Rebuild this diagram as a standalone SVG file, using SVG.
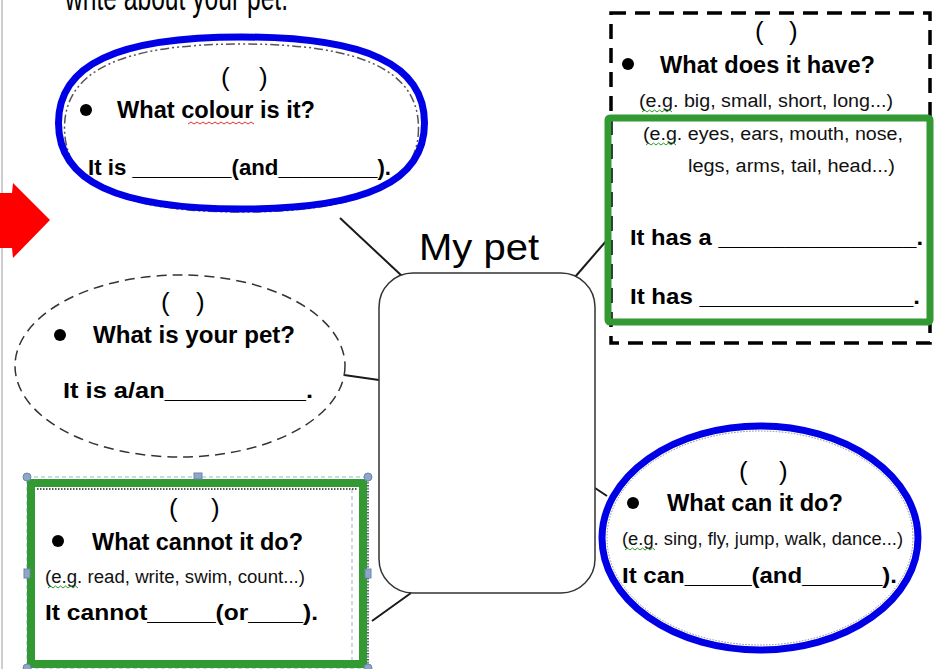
<svg xmlns="http://www.w3.org/2000/svg" width="935" height="669" viewBox="0 0 935 669">
  <style>
    .q { font-family: "Liberation Sans", "DejaVu Sans", sans-serif; font-weight: bold; font-size: 23px; fill: #000; }
    .ans { font-family: "Liberation Sans", "DejaVu Sans", sans-serif; font-weight: bold; font-size: 22px; fill: #000; }
    .eg { font-family: "Liberation Sans", "DejaVu Sans", sans-serif; font-size: 18px; fill: #111; }
    .par { font-family: "Liberation Sans", "DejaVu Sans", sans-serif; font-size: 26px; fill: #000; }
    .title { font-family: "Liberation Sans", "DejaVu Sans", sans-serif; font-size: 36px; fill: #000; }
    .blue { fill: none; stroke: #0000e6; stroke-width: 7; }
    .green { fill: none; stroke: #339933; stroke-width: 7; }
    .conn { stroke: #1a1a1a; stroke-width: 2; fill: none; }
    .squig-red { fill: none; stroke: #e03030; stroke-width: 1; }
    .squig-green { fill: none; stroke: #2c9a2c; stroke-width: 1; }
    .handle { fill: #8ea6c8; stroke: #6d86aa; stroke-width: 1; }
  </style>

  <rect x="0" y="0" width="935" height="669" fill="#fff"/>
  <!-- page margin line -->
  <line x1="2" y1="0" x2="2" y2="669" stroke="#bdbdbd" stroke-width="1.5"/>

  <!-- heading, clipped by the top edge -->
  <text class="title" x="65" y="10" font-size="24" textLength="223" lengthAdjust="spacingAndGlyphs">write about your pet.</text>

  <!-- red pointer arrow -->
  <path d="M0 193 L12 193 L13 183 L50 220 L13 258 L12 248 L0 248 Z" fill="#ff0000"/>

  <!-- connectors from the centre box -->
  <g id="connectors">
    <line class="conn" x1="340" y1="218" x2="402" y2="276"/>
    <line class="conn" x1="575" y1="277" x2="607" y2="240"/>
    <line class="conn" x1="344" y1="375" x2="379" y2="380"/>
    <line class="conn" x1="595" y1="488" x2="607" y2="496"/>
    <line class="conn" x1="411" y1="593" x2="372" y2="621"/>
  </g>

  <!-- centre box -->
  <g id="node-center">
    <text class="title" x="419" y="260" textLength="120" lengthAdjust="spacingAndGlyphs">My pet</text>
    <rect x="379" y="273" width="216" height="320" rx="34" ry="34" fill="#fff" stroke="#333" stroke-width="1.5"/>
  </g>

  <!-- colour bubble (slightly squared oval) -->
  <g id="node-colour">
    <path d="M418.5 128 C418.5 185.1 361.9 212 241.5 212 C121.1 212 64.5 185.1 64.5 128 C64.5 70.9 121.1 44 241.5 44 C361.9 44 418.5 70.9 418.5 128 Z" fill="none" stroke="#555" stroke-width="1.5" stroke-dasharray="9 3 2 3 2 3"/>
    <path class="blue" d="M424.5 123 C424.5 181.5 365.9 209 241.5 209 C117.1 209 58.5 181.5 58.5 123 C58.5 64.5 117.1 37 241.5 37 C365.9 37 424.5 64.5 424.5 123 Z"/>
    <text class="par" x="221" y="86">(</text>
    <text class="par" x="259" y="86">)</text>
    <circle cx="86" cy="110" r="6" fill="#000"/>
    <text class="q" x="117" y="118" textLength="198" lengthAdjust="spacingAndGlyphs">What colour is it?</text>
    <path class="squig-red" d="M188 124 l3 -2 l3 2 l3 -2 l3 2 l3 -2 l3 2 l3 -2 l3 2 l3 -2 l3 2 l3 -2 l3 2 l3 -2 l3 2 l3 -2 l3 2 l3 -2 l3 2 l3 -2 l3 2 l3 -2 l3 2"/>
    <text class="ans" x="88" y="175" textLength="303" lengthAdjust="spacingAndGlyphs">It is ________(and________).</text>
  </g>

  <!-- body parts box -->
  <g id="node-have">
    <rect x="611" y="13" width="319" height="330" fill="none" stroke="#000" stroke-width="3.5" stroke-dasharray="15 9"/>
    <rect class="green" x="608" y="118" width="322" height="204" rx="2"/>
    <text class="par" x="755" y="40">(</text>
    <text class="par" x="789" y="40">)</text>
    <circle cx="628" cy="64" r="6" fill="#000"/>
    <text class="q" x="660" y="73" textLength="215" lengthAdjust="spacingAndGlyphs">What does it have?</text>
    <text class="eg" x="639" y="107" textLength="254" lengthAdjust="spacingAndGlyphs">(e.g. big, small, short, long...)</text>
    <path class="squig-green" d="M642 112 l2.5 -2 l2.5 2 l2.5 -2 l2.5 2 l2.5 -2 l2.5 2 l2.5 -2 l2.5 2 l2.5 -2 l2.5 2 l2.5 -2 l2.5 2"/>
    <text class="eg" x="643" y="140" textLength="260" lengthAdjust="spacingAndGlyphs">(e.g. eyes, ears, mouth, nose,</text>
    <path class="squig-green" d="M646 145 l2.5 -2 l2.5 2 l2.5 -2 l2.5 2 l2.5 -2 l2.5 2 l2.5 -2 l2.5 2 l2.5 -2 l2.5 2 l2.5 -2 l2.5 2"/>
    <text class="eg" x="688" y="172" textLength="207" lengthAdjust="spacingAndGlyphs">legs, arms, tail, head...)</text>
    <text class="ans" x="630" y="245" textLength="293" lengthAdjust="spacingAndGlyphs">It has a _______________.</text>
    <text class="ans" x="630" y="304" textLength="290" lengthAdjust="spacingAndGlyphs">It has ________________.</text>
  </g>

  <!-- pet type bubble -->
  <g id="node-pet">
    <ellipse cx="180" cy="366" rx="165" ry="91" fill="#fff" stroke="#333" stroke-width="1.5" stroke-dasharray="10 6"/>
    <text class="par" x="161" y="311" font-size="22">(</text>
    <text class="par" x="196" y="311" font-size="22">)</text>
    <circle cx="60" cy="335" r="6" fill="#000"/>
    <text class="q" x="93" y="343" textLength="202" lengthAdjust="spacingAndGlyphs">What is your pet?</text>
    <text class="ans" x="63" y="398" textLength="250" lengthAdjust="spacingAndGlyphs">It is a/an__________.</text>
  </g>

  <!-- cannot-do box, shown with its selection frame -->
  <g id="node-cannot">
    <line x1="352" y1="489" x2="352" y2="660" stroke="#9bb0cc" stroke-width="1" stroke-dasharray="4 3"/>
    <line x1="37" y1="489" x2="358" y2="489" stroke="#222" stroke-width="1.5" stroke-dasharray="1.5 1.5"/>
    <line x1="368" y1="482" x2="368" y2="668" stroke="#222" stroke-width="1.5" stroke-dasharray="1.5 1.5"/>
    <rect x="27" y="477" width="341" height="191" fill="none" stroke="#9bb0cc" stroke-width="1" stroke-dasharray="4 3"/>
    <rect x="31" y="483" width="332" height="181" fill="none" stroke="#339933" stroke-width="8"/>
    <circle class="handle" cx="27" cy="477" r="4"/>
    <circle class="handle" cx="368" cy="477" r="4"/>
    <circle class="handle" cx="27" cy="668" r="4"/>
    <circle class="handle" cx="368" cy="668" r="4"/>
    <rect class="handle" x="194" y="473" width="8" height="6"/>
    <rect class="handle" x="24" y="569" width="6" height="9"/>
    <rect class="handle" x="365" y="569" width="6" height="9"/>
    <text class="par" x="169" y="517">(</text>
    <text class="par" x="211" y="517">)</text>
    <circle cx="58" cy="541" r="6" fill="#000"/>
    <text class="q" x="92" y="550" textLength="211" lengthAdjust="spacingAndGlyphs">What cannot it do?</text>
    <text class="eg" x="45" y="583" textLength="260" lengthAdjust="spacingAndGlyphs">(e.g. read, write, swim, count...)</text>
    <path class="squig-green" d="M48 588 l2.5 -2 l2.5 2 l2.5 -2 l2.5 2 l2.5 -2 l2.5 2 l2.5 -2 l2.5 2 l2.5 -2 l2.5 2 l2.5 -2 l2.5 2"/>
    <text class="ans" x="45" y="620" textLength="273" lengthAdjust="spacingAndGlyphs">It cannot_____(or____).</text>
  </g>

  <!-- can-do bubble -->
  <g id="node-can">
    <ellipse cx="760" cy="538" rx="153" ry="107" fill="none" stroke="#888" stroke-width="1" stroke-dasharray="1.5 1.5"/>
    <ellipse class="blue" cx="760" cy="538" rx="158" ry="112"/>
    <text class="par" x="739" y="480">(</text>
    <text class="par" x="779" y="480">)</text>
    <circle cx="633" cy="503" r="6" fill="#000"/>
    <text class="q" x="667" y="511" textLength="176" lengthAdjust="spacingAndGlyphs">What can it do?</text>
    <text class="eg" x="622" y="545" textLength="281" lengthAdjust="spacingAndGlyphs">(e.g. sing, fly, jump, walk, dance...)</text>
    <path class="squig-green" d="M625 550 l2.5 -2 l2.5 2 l2.5 -2 l2.5 2 l2.5 -2 l2.5 2 l2.5 -2 l2.5 2 l2.5 -2 l2.5 2 l2.5 -2 l2.5 2"/>
    <text class="ans" x="622" y="583" textLength="275" lengthAdjust="spacingAndGlyphs">It can_____(and______).</text>
  </g>
</svg>
